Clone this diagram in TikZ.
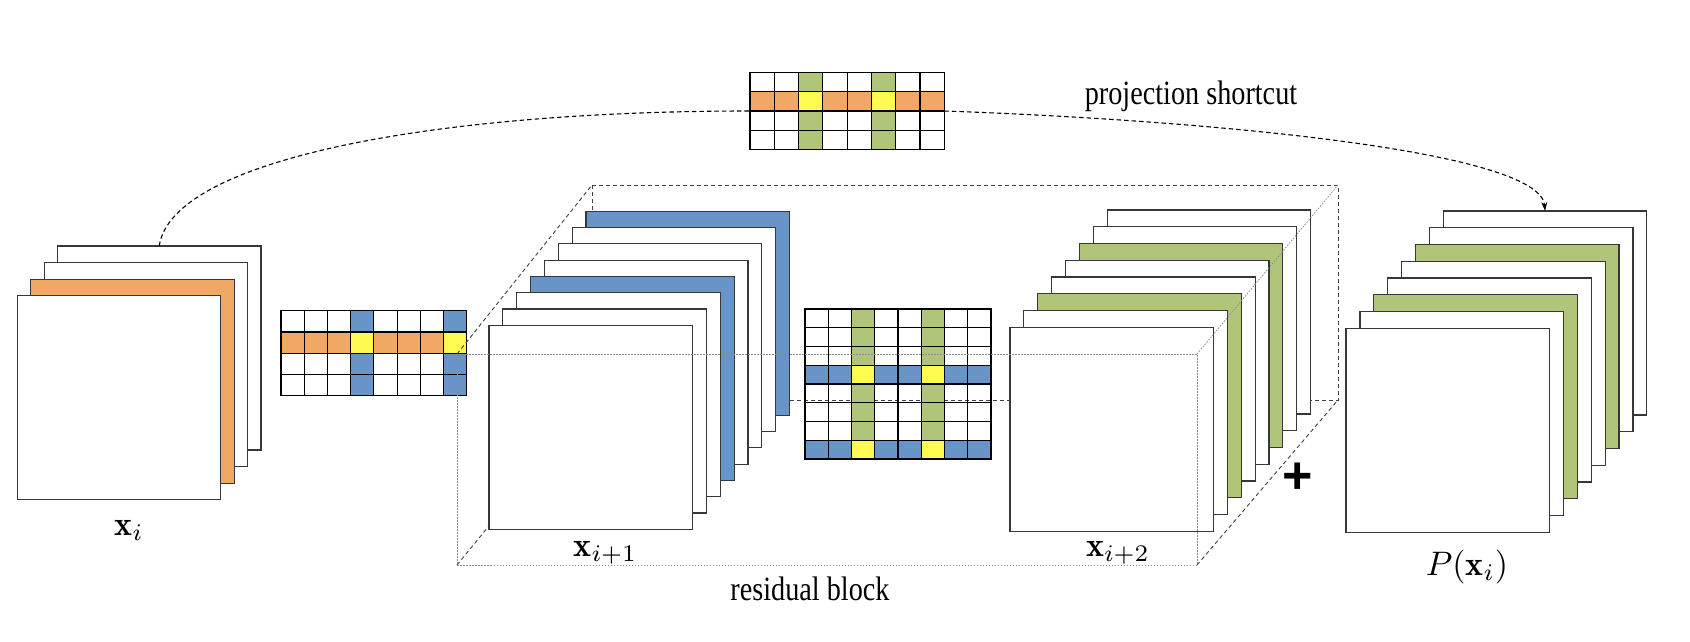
\documentclass[tikz,border=0pt]{standalone}
\usepackage{fontspec}
\usetikzlibrary{arrows.meta}
\newfontfamily\timesfont{Liberation Serif}
\newfontfamily\arialfont{Liberation Sans}

\definecolor{fmblue}{RGB}{104,148,199}
\definecolor{fmorange}{RGB}{240,168,100}
\definecolor{fmgreen}{RGB}{176,196,122}
\definecolor{fmyellow}{RGB}{255,250,80}
\definecolor{edgegray}{RGB}{55,55,55}

% cell grid helpers: x0, y0, cell width, cell height, ...
\newcommand\cgLines[6]{%
  \foreach \i in {0,...,#5} \draw[cellline] ({#1+\i*#3},#2) -- ({#1+\i*#3},{#2+#6*#4});
  \foreach \j in {0,...,#6} \draw[cellline] (#1,{#2+\j*#4}) -- ({#1+#5*#3},{#2+\j*#4});}
\newcommand\cgCol[7]{% column #6 over #5 rows
  \fill[#7] ({#1+#6*#3},#2) rectangle ({#1+(#6+1)*#3},{#2+#5*#4});}
\newcommand\cgRow[7]{% row #6 over #5 columns
  \fill[#7] (#1,{#2+#6*#4}) rectangle ({#1+#5*#3},{#2+(#6+1)*#4});}
\newcommand\cgCell[6]{% single yellow cell (#5,#6)
  \fill[fmyellow] ({#1+#5*#3},{#2+#6*#4}) rectangle ({#1+(#5+1)*#3},{#2+(#6+1)*#4});}
\newcommand\bigmath[1]{\scalebox{3.4}{$#1$}}
\newcommand\narrowtext[1]{\scalebox{0.83}[1]{#1}}

\tikzset{
  layer/.style={draw=edgegray, line width=1.2pt, minimum width=203.5pt,
    minimum height=204pt, inner sep=0pt, outer sep=0pt, anchor=north west},
  cellline/.style={draw=black, line width=1.1pt},
  gridframe/.style={draw=black, line width=1.2pt, inner sep=0pt, outer sep=0pt},
  backdash/.style={draw=black!75, line width=0.9pt, dash pattern=on 4pt off 3pt},
  frontdot/.style={draw=black!45, line width=0.8pt, dash pattern=on 1.5pt off 1.5pt},
  shortcut/.style={draw=black, line width=1.1pt, dash pattern=on 4.5pt off 3pt},
  mathlabel/.style={anchor=base, inner sep=0pt},
  textlabel/.style={anchor=base, inner sep=0pt, font=\timesfont\fontsize{34}{40}\selectfont},
}

\begin{document}
\begin{tikzpicture}[x=1pt, y=-1pt]
  \fill[white] (0,0) rectangle (1690,642);
  \useasboundingbox (0,0) rectangle (1690,642);

  % residual block box corners
  \coordinate (fTL) at (457,354);  \coordinate (fTR) at (1197,354);
  \coordinate (fBR) at (1197,565); \coordinate (fBL) at (457,565);
  \coordinate (bTL) at (592,185);  \coordinate (bTR) at (1338,185);
  \coordinate (bBR) at (1338,400); \coordinate (bBL) at (592,400);

  % hidden edges of the box
  \draw[backdash] (bTL) -- (bTR) -- (bBR) -- (bBL) -- cycle;
  \draw[backdash] (fBL) -- (bBL);

  % feature maps x_i
  \foreach \c [count=\k from 0] in {white,white,fmorange,white}
    \node[layer, fill=\c] (xi\k) at ({17.3+(3-\k)*13.4},{295.7-(3-\k)*16.6}) {};

  % feature maps x_{i+1}
  \foreach \c [count=\k from 0] in {fmblue,white,white,white,fmblue,white,white,white}
    \node[layer, fill=\c] (xa\k) at ({489+(7-\k)*13.87},{325.3-(7-\k)*16.3}) {};

  % feature maps x_{i+2}
  \foreach \c [count=\k from 0] in {white,white,fmgreen,white,white,fmgreen,white,white}
    \node[layer, fill=\c] (xb\k) at ({1010+(7-\k)*13.87},{327.3-(7-\k)*16.76}) {};

  % feature maps P(x_i)
  \foreach \c [count=\k from 0] in {white,white,fmgreen,white,white,fmgreen,white,white}
    \node[layer, fill=\c] (p\k) at ({1346+(7-\k)*13.9},{328.3-(7-\k)*16.76}) {};

  % kernel grid between x_i and x_{i+1}
  \cgRow{281}{310.7}{23.21}{21.25}{8}{1}{fmorange}
  \cgCol{281}{310.7}{23.21}{21.25}{4}{3}{fmblue}
  \cgCol{281}{310.7}{23.21}{21.25}{4}{7}{fmblue}
  \cgCell{281}{310.7}{23.21}{21.25}{3}{1}
  \cgCell{281}{310.7}{23.21}{21.25}{7}{1}
  \cgLines{281}{310.7}{23.21}{21.25}{8}{4}
  \node[gridframe, minimum width=185.7pt, minimum height=85pt] (g1) at (373.85,353.2) {};

  % kernel grid between x_{i+1} and x_{i+2}
  \cgRow{805}{309}{23.25}{18.75}{8}{3}{fmblue}
  \cgRow{805}{309}{23.25}{18.75}{8}{7}{fmblue}
  \cgCol{805}{309}{23.25}{18.75}{8}{2}{fmgreen}
  \cgCol{805}{309}{23.25}{18.75}{8}{5}{fmgreen}
  \foreach \a in {2,5} \foreach \b in {3,7} \cgCell{805}{309}{23.25}{18.75}{\a}{\b}
  \cgLines{805}{309}{23.25}{18.75}{8}{8}
  \node[gridframe, minimum width=186pt, minimum height=150pt] (g2) at (898,384) {};

  % kernel grid of the projection shortcut
  \cgRow{749.9}{72.7}{24.3}{19.15}{8}{1}{fmorange}
  \cgCol{749.9}{72.7}{24.3}{19.15}{4}{2}{fmgreen}
  \cgCol{749.9}{72.7}{24.3}{19.15}{4}{5}{fmgreen}
  \cgCell{749.9}{72.7}{24.3}{19.15}{2}{1}
  \cgCell{749.9}{72.7}{24.3}{19.15}{5}{1}
  \cgLines{749.9}{72.7}{24.3}{19.15}{8}{4}
  \node[gridframe, minimum width=194.4pt, minimum height=76.6pt] (g3) at (847.1,111) {};

  % visible edges of the box
  \draw[frontdot] (fTL) -- (fTR) -- (fBR) -- (fBL) -- cycle;
  \draw[backdash] (fTL) -- (bTL);
  \draw[frontdot] (fTR) -- (bTR);
  \draw[backdash] (fBR) -- (bBR);

  % projection shortcut
  \draw[shortcut] (xi0.north) .. controls (172,160) and (430,111) .. (g3.west);
  \draw[shortcut, -{Stealth[length=9pt, width=6pt]}]
    (g3.east) .. controls (1200,120) and (1540,150) .. (p0.north);

  % labels
  \node[mathlabel] (lxi) at (129,535) {\bigmath{\mathbf{x}_i}};
  \node[mathlabel] (lxa) at (605.5,556.7) {\bigmath{\mathbf{x}_{i+1}}};
  \node[mathlabel] (lxb) at (1118,556.7) {\bigmath{\mathbf{x}_{i+2}}};
  \node[mathlabel] (lp) at (1467,575) {\bigmath{P(\mathbf{x}_i)}};
  \node[textlabel] (lps) at (1191,104.3) {\narrowtext{projection shortcut}};
  \node[textlabel] (lrb) at (810,600) {\narrowtext{residual block}};
  \node[inner sep=0pt, font=\arialfont\bfseries\fontsize{52}{56}\selectfont] (plus) at (1297.3,478) {+};
\end{tikzpicture}
\end{document}
